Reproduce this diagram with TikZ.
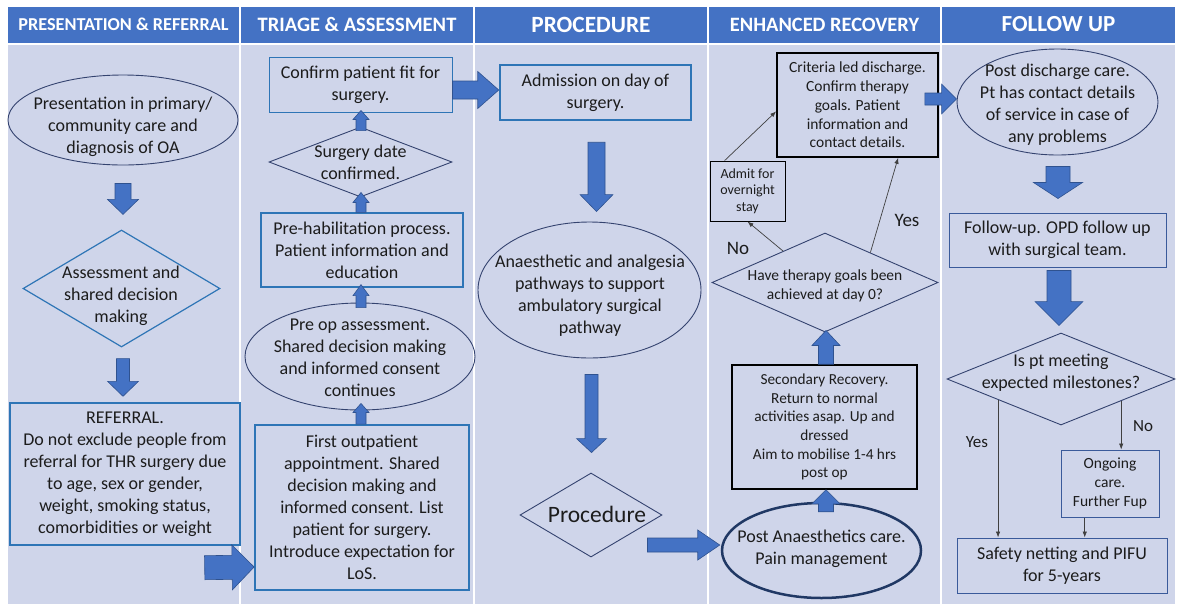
\documentclass[tikz,border=0pt]{standalone}
\usepackage{fontspec}
\setmainfont{Carlito}
\usetikzlibrary{shapes.geometric,calc,arrows.meta}

\definecolor{hdr}{HTML}{4472C4}
\definecolor{lane}{HTML}{CFD5EA}
\definecolor{arrfill}{HTML}{4472C4}
\definecolor{arrline}{HTML}{2F528F}
\definecolor{midblue}{HTML}{2E75B6}
\definecolor{navy}{HTML}{34436F}
\definecolor{deepnavy}{HTML}{203864}
\definecolor{boxblue}{HTML}{3A5A9A}
\definecolor{ink}{HTML}{1C1C1C}
\definecolor{wire}{HTML}{404040}

\newcommand\setfs[2]{\fontsize{#1}{#2}\selectfont}

% block arrow: start, tip, shaft half-width, head half-width, head length
\newcommand\blockarrow[5]{%
  \coordinate (ba-s) at #1;
  \coordinate (ba-t) at #2;
  \coordinate (ba-h) at ($(ba-t)!#5pt!(ba-s)$);
  \filldraw[blockarrow]
    ($(ba-s)!#3pt!90:(ba-t)$) -- ($(ba-h)!#3pt!-90:(ba-s)$) --
    ($(ba-h)!#4pt!-90:(ba-s)$) -- (ba-t) --
    ($(ba-h)!#4pt!90:(ba-s)$) -- ($(ba-h)!#3pt!90:(ba-s)$) --
    ($(ba-s)!#3pt!-90:(ba-t)$) -- cycle;
}

\tikzset{
  blockarrow/.style={fill=arrfill, draw=arrline, line width=0.6pt},
  hdrcell/.style={fill=hdr, text=white, inner sep=0pt, minimum height=36,
    font=\bfseries},
  txt/.style={align=center, text=ink, inner sep=0pt, font=\setfs{18}{22}},
  box/.style={rectangle, draw, align=center, text=ink, inner sep=0pt,
    font=\setfs{18}{22}},
  ell/.style={ellipse, draw=navy, line width=0.9pt, inner sep=0pt},
  dia/.style={diamond, draw=navy, line width=0.9pt, inner sep=0pt},
  wirearrow/.style={draw=wire, line width=0.7pt,
    -{Latex[length=6pt,width=4.5pt]}},
  lbl/.style={text=ink, inner sep=0pt},
}

\begin{document}
\begin{tikzpicture}[x=1pt, y=-1pt]
\useasboundingbox (0,0) rectangle (1179,606);
\fill[white] (0,0) rectangle (1179,606);

% swim lanes
\fill[lane] (8,45) rectangle (239,604);
\fill[lane] (241,45) rectangle (473,604);
\fill[lane] (475,45) rectangle (707,604);
\fill[lane] (709,45) rectangle (940,604);
\fill[lane] (942,45) rectangle (1175,604);

% lane headers
\node[hdrcell, minimum width=231, font=\bfseries\setfs{18.2}{21}] (h1) at (123.5,24.5) {PRESENTATION \& REFERRAL};
\node[hdrcell, minimum width=232, font=\bfseries\setfs{20.5}{24}] (h2) at (357,24.5) {TRIAGE \& ASSESSMENT};
\node[hdrcell, minimum width=232, font=\bfseries\setfs{23.3}{26}] (h3) at (591,24.5) {PROCEDURE};
\node[hdrcell, minimum width=231, font=\bfseries\setfs{20.4}{24}] (h4) at (824.5,24.5) {ENHANCED RECOVERY};
\node[hdrcell, minimum width=233, font=\bfseries\setfs{23}{26}] (h5) at (1058.5,24.5) {FOLLOW UP};

% ---- presentation & referral
\node[ell, minimum width=230, minimum height=90] (e1) at (123,120) {};
\node[txt] (e1t) at (123,127) {Presentation in primary/\\community care and\\diagnosis of OA};
\node[dia, draw=midblue, line width=1.2pt, minimum width=197, minimum height=117] (d1) at (121.5,288.5) {};
\node[txt] (d1t) at (121,296) {Assessment and\\shared decision\\making};
\node[box, draw=midblue, line width=1.4pt, minimum width=230, minimum height=142] (r1) at (125,474)
  {REFERRAL.\\Do not exclude people from\\referral for THR surgery due\\to age, sex or gender,\\weight, smoking status,\\comorbidities or weight};

% ---- triage & assessment
\node[box, draw=midblue, line width=1pt, minimum width=183, minimum height=55] (c1) at (360.5,84.5) {Confirm patient fit for\\surgery.};
\node[dia, minimum width=183, minimum height=70] (d2) at (360.5,162) {};
\node[txt] (d2t) at (360.5,162) {Surgery date\\confirmed.};
\node[box, draw=midblue, line width=1.2pt, minimum width=202, minimum height=74] (p1) at (362,250)
  {Pre-habilitation process.\\Patient information and\\education};
\node[ell, minimum width=230, minimum height=107] (e2) at (360,356.5) {};
\node[txt] (e2t) at (360,358) {Pre op assessment.\\Shared decision making\\and informed consent\\continues};
\node[box, draw=midblue, line width=1.8pt, minimum width=214, minimum height=165] (f1) at (362,507.5)
  {First outpatient\\appointment. Shared\\decision making and\\informed consent. List\\patient for surgery.\\Introduce expectation for\\LoS.};

% ---- procedure
\node[box, draw=midblue, line width=2.5pt, minimum width=191, minimum height=55] (m1) at (595.5,92.5) {Admission on day of\\surgery.};
\node[ell, minimum width=223, minimum height=136] (e3) at (589.5,290) {};
\node[txt] (e3t) at (590,295.5) {Anaesthetic and analgesia\\pathways to support\\ambulatory surgical\\pathway};
\node[dia, minimum width=142, minimum height=84] (d3) at (591,515) {};
\node[txt, font=\setfs{23.5}{27}] (d3t) at (597,514) {Procedure};

% ---- enhanced recovery
\node[box, draw=black, line width=1.6pt, minimum width=161, minimum height=104, font=\setfs{15.5}{18.8}] (k1) at (857.5,105)
  {Criteria led discharge.\\Confirm therapy\\goals. Patient\\information and\\contact details.};
\node[box, draw=black, line width=1pt, minimum width=75, minimum height=60, font=\setfs{14}{16.5}] (k2) at (747.5,191)
  {Admit for\\overnight\\stay};
\node[dia, minimum width=226, minimum height=99] (k3) at (825,282.5) {};
\node[txt, font=\setfs{15.5}{19}] (k3t) at (825,285.5) {Have therapy goals been\\achieved at day 0?};
\node[box, draw=black, line width=1.6pt, minimum width=185, minimum height=124, font=\setfs{15.3}{18.7}] (k4) at (824.5,427)
  {Secondary Recovery.\\Return to normal\\activities asap. Up and\\dressed\\Aim to mobilise 1-4 hrs\\post op};
\node[ell, draw=deepnavy, line width=2.5pt, minimum width=199, minimum height=95] (k5) at (821.5,550.5) {};
\node[txt] (k5t) at (821.5,549) {Post Anaesthetics care.\\Pain management};
\node[lbl, font=\setfs{19}{22}] (k3no) at (738,248) {No};
\node[lbl, font=\setfs{19}{22}] (k3yes) at (907,220) {Yes};

% ---- follow up
\node[ell, minimum width=201, minimum height=106] (e4) at (1057.5,102) {};
\node[txt] (e4t) at (1057.5,105) {Post discharge care.\\Pt has contact details\\of service in case of\\any problems};
\node[box, draw=boxblue, line width=1pt, minimum width=217, minimum height=54] (g1) at (1057.5,240)
  {Follow-up. OPD follow up\\with surgical team.};
\node[dia, minimum width=228, minimum height=92] (d5) at (1061,379) {};
\node[txt] (d5t) at (1061,372.5) {Is pt meeting\\expected milestones?};
\node[box, draw=boxblue, line width=1pt, minimum width=98, minimum height=67, font=\setfs{15.5}{19}] (o1) at (1110,483.5)
  {Ongoing\\care.\\Further Fup};
\node[box, draw=boxblue, line width=1pt, minimum width=210, minimum height=55] (s1) at (1062,565.5)
  {Safety netting and PIFU\\for 5-years};
\node[lbl, font=\setfs{17}{20}] (d5yes) at (977,442) {Yes};
\node[lbl, font=\setfs{17}{20}] (d5no) at (1143,426) {No};

% ---- block arrows
\blockarrow{($(e1.south)+(0,18)$)}{($(d1.north)+(1.5,-15)$)}{8}{15.5}{15}
\blockarrow{($(d1.south)+(1.5,11)$)}{($(r1.north)+(-2,-6)$)}{6.5}{15.5}{15}
\blockarrow{($(r1.south east)+(-36,22)$)}{($(f1.west)+(0,59.5)$)}{12}{22.5}{22}
\blockarrow{($(d2.north)+(0.5,4)$)}{($(c1.south)+(0.5,-2)$)}{5}{8}{9}
\blockarrow{($(p1.north)+(-1,0)$)}{($(d2.south)+(0.5,-5)$)}{5}{8}{10}
\blockarrow{($(e2.north)+(1,5)$)}{($(p1.south)+(-1,-3)$)}{5}{8}{11}
\blockarrow{($(f1.north)+(-1,0)$)}{($(e2.south)+(1,-7)$)}{5}{8}{9}
\blockarrow{($(c1.east)+(0,5.5)$)}{($(m1.west)+(0,-2.5)$)}{9}{18.5}{21}
\blockarrow{($(m1.south)+(1,21)$)}{($(e3.north)+(7,-10)$)}{8.5}{16.5}{17}
\blockarrow{($(e3.south)+(2,16)$)}{($(d3.north)+(0.5,-20)$)}{6.5}{15}{14}
\blockarrow{($(d3.east)+(-15,30)$)}{($(k5.west)+(-1,-5.5)$)}{7}{15}{22}
\blockarrow{($(k4.north)+(1.5,0)$)}{($(k3.south)+(1,-2)$)}{7.5}{14}{15}
\blockarrow{($(k5.north)+(4.5,10)$)}{($(k4.south)+(1.5,0)$)}{7.5}{14}{14}
\blockarrow{($(k1.east)+(-14,-6)$)}{($(e4.west)+(0,-3)$)}{6}{15}{15}
\blockarrow{($(e4.south)+(0.5,11)$)}{($(g1.north)+(0.5,-14)$)}{12}{24.5}{16}
\blockarrow{($(g1.south)+(1.5,3)$)}{($(d5.north)+(-2,-7)$)}{12}{24}{24}

% ---- thin connectors
\draw[wirearrow] ($(k3.north)!0.37!(k3.west)$) -- (k2.south);
\draw[wirearrow] ($(k3.north)!0.4!(k3.east)$) -- ($(k1.south east)!0.25!(k1.south west)$);
\draw[wirearrow] ($(k2.north west)!0.2!(k2.north east)$) -- ($(k1.north west)!0.56!(k1.south west)$);
\coordinate (d5y) at ($(d5.south)!0.55!(d5.west)$);
\coordinate (d5n) at ($(d5.south)!0.526!(d5.east)$);
\coordinate (o1b) at ($(o1.south west)!0.245!(o1.south east)$);
\draw[wirearrow] (d5y) -- (d5y |- s1.north);
\draw[wirearrow] (d5n) -- (d5n |- o1.north);
\draw[wirearrow] (o1b) -- (o1b |- s1.north);
\end{tikzpicture}
\end{document}
